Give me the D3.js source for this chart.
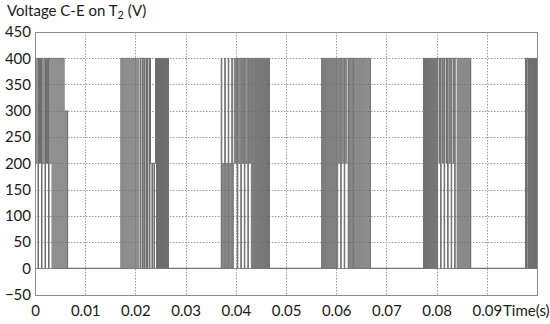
<!DOCTYPE html>
<html>
<head>
<meta charset="utf-8">
<script src="https://cdn.jsdelivr.net/npm/d3@7"></script>
<style>
body { margin: 0; background: #fff; }
svg text { font-family: Lato, "Open Sans", sans-serif; font-size: 15px; fill: #1a1a1a; }
</style>
</head>
<body>
<div id="chart"></div>
<script>
// tick values
const xTicks = [0, 0.01, 0.02, 0.03, 0.04, 0.05, 0.06, 0.07, 0.08, 0.09];
const yTicks = [-50, 0, 50, 100, 150, 200, 250, 300, 350, 400, 450];

// switching bursts: [time (ms), voltage after the edge]
const burst1 = [[0,400],[0.2,200],[0.4,400],[0.6,0],[0.7,400],[0.9,200],[1.1,400],[1.3,0],[1.4,400],[1.6,200],[1.8,400],[2.0,0],[2.1,400],[2.3,200],[2.5,400],[2.7,0],[2.8,400],[3.0,200],[3.2,400],
	[3.4,0],[3.6,400],[3.8,0],[4.0,400],[4.2,0],[4.4,400],[4.6,0],[4.8,400],[5.0,0],[5.2,400],[5.4,0],[5.6,400],
	[5.8,0],[6.0,300],[6.2,0],[6.4,300],[6.5,0]];
const burst2 = [[17.1,400],[17.3,0],[17.5,400],[17.7,0],[17.9,400],[18.1,0],[18.3,400],[18.5,0],[18.7,400],[18.9,0],[19.1,400],[19.3,0],[19.5,400],[19.7,0],[19.9,400],[20.1,0],[20.3,400],[20.5,0],[20.7,400],
	[21.0,0],[21.1,400],[21.4,0],[21.5,400],[21.7,0],[21.8,400],[22.1,0],[22.2,400],[22.4,0],[22.5,400],[22.8,0],[22.9,400],
	[23.0,200],[23.3,0],[23.4,200],[23.7,0],[23.8,200],
	[24.0,400],[24.2,0],[24.4,400],[24.6,0],[24.8,400],[25.0,0],[25.2,400],[25.4,0],[25.6,400],[25.8,0],[26.0,400],[26.2,0],[26.4,400],[26.6,0]];
const burst3 = [[37.1,400],[37.2,0],[37.4,200],[37.6,0],[37.8,400],[37.9,0],[38.1,200],[38.3,0],[38.5,400],[38.6,0],[38.8,200],[39.0,0],[39.2,400],[39.3,0],[39.5,200],
	[39.7,400],[39.9,200],[40.1,400],[40.3,0],[40.4,400],[40.6,200],[40.8,400],[41.0,0],[41.1,400],[41.3,200],[41.5,400],[41.7,0],[41.8,400],[42.0,200],[42.2,400],[42.4,0],[42.5,400],[42.7,200],[42.9,400],
	[43.1,0],[43.3,400],[43.5,0],[43.7,400],[43.9,0],[44.1,400],[44.3,0],[44.5,400],[44.7,0],[44.9,400],[45.1,0],[45.3,400],[45.5,0],[45.7,400],[45.9,0],[46.1,400],[46.3,0],[46.5,400],[46.7,0]];
const burst4 = [[57.1,400],[57.3,0],[57.5,400],[57.7,0],[57.9,400],[58.1,0],[58.3,400],[58.5,0],[58.7,400],[58.9,0],[59.1,400],[59.3,0],[59.5,400],[59.7,0],[59.9,400],[60.1,0],[60.3,400],
	[60.5,200],[60.7,400],[60.9,0],[61.0,400],[61.2,200],[61.4,400],[61.6,0],[61.7,400],[61.9,200],[62.1,400],
	[62.4,0],[62.5,400],[62.7,0],[62.8,400],[63.1,0],[63.2,400],[63.4,0],[63.5,400],
	[63.7,0],[63.9,400],[64.1,0],[64.3,400],[64.5,0],[64.7,400],[64.9,0],[65.1,400],[65.3,0],[65.5,400],[65.7,0],[65.9,400],[66.1,0],[66.3,400],[66.5,0],[66.7,400],[66.8,0]];
const burst5 = [[77.4,400],[77.6,0],[77.8,400],[78.0,0],[78.2,400],[78.4,0],[78.6,400],[78.8,0],[79.0,400],[79.2,0],[79.4,400],[79.6,0],[79.8,400],[80.0,0],[80.2,400],
	[80.5,200],[80.6,400],[80.8,0],[80.9,400],[81.2,200],[81.3,400],[81.5,0],[81.6,400],[81.9,200],[82.0,400],[82.2,0],[82.3,400],[82.6,200],[82.7,400],[82.9,0],[83.0,400],[83.3,200],[83.4,400],[83.6,0],[83.7,400],
	[84.1,0],[84.3,400],[84.5,0],[84.7,400],[84.9,0],[85.1,400],[85.3,0],[85.5,400],[85.7,0],[85.9,400],[86.1,0],[86.3,400],[86.5,0],[86.7,400],[86.8,0]];
const burst6 = [[97.7,400],[97.9,0],[98.0,400],[98.2,0],[98.3,400],[98.5,0],
	[98.7,400],[98.9,0],[99.1,400],[99.3,0],[99.5,400],[99.7,0],[99.9,400],[100,400]];

function drawChart() {
	const W = 550, H = 324;
	const x = d3.scaleLinear().domain([0, 0.1]).range([35, 537]);
	const y = d3.scaleLinear().domain([-50, 450]).range([294.5, 32]);

	const svg = d3.select("#chart").append("svg")
		.attr("width", W)
		.attr("height", H);

	// dotted grid
	svg.append("g").selectAll("line")
		.data(xTicks.filter(d => d > 0))
		.enter().append("line")
		.attr("x1", d => Math.round(x(d)) + 0.5)
		.attr("x2", d => Math.round(x(d)) + 0.5)
		.attr("y1", y(450))
		.attr("y2", y(-50))
		.attr("stroke", "#9a9a9a")
		.attr("stroke-dasharray", "1.5,1.5");

	svg.append("g").selectAll("line")
		.data(yTicks.filter(d => d > 0 && d < 450))
		.enter().append("line")
		.attr("x1", x(0))
		.attr("x2", x(0.1))
		.attr("y1", d => Math.round(y(d)) + 0.5)
		.attr("y2", d => Math.round(y(d)) + 0.5)
		.attr("stroke", "#9a9a9a")
		.attr("stroke-dasharray", "1.5,1.5");

	// zero line and frame
	svg.append("line")
		.attr("x1", x(0)).attr("x2", x(0.1))
		.attr("y1", Math.round(y(0)) + 0.5).attr("y2", Math.round(y(0)) + 0.5)
		.attr("stroke", "#8a8a8a");

	svg.append("rect")
		.attr("x", Math.round(x(0)) + 0.5)
		.attr("y", Math.round(y(450)) + 0.5)
		.attr("width", Math.round(x(0.1)) - Math.round(x(0)))
		.attr("height", Math.round(y(-50)) - Math.round(y(450)))
		.attr("fill", "none")
		.attr("stroke", "#8a8a8a");

	// waveform
	const wave = [].concat(burst1, burst2, burst3, burst4, burst5, burst6);
	const line = d3.line()
		.x(d => x(d[0] / 1000))
		.y(d => y(d[1]))
		.curve(d3.curveStepAfter);

	svg.append("path")
		.datum(wave)
		.attr("d", line)
		.attr("fill", "none")
		.attr("stroke", "#6c6c6c")
		.attr("stroke-width", 1);

	// axes (labels only)
	const yAxis = svg.append("g")
		.attr("transform", "translate(" + x(0) + ",0)")
		.call(d3.axisLeft(y).tickValues(yTicks).tickSize(0).tickPadding(4));
	yAxis.select(".domain").remove();

	const xAxis = svg.append("g")
		.attr("transform", "translate(0," + y(-50) + ")")
		.call(d3.axisBottom(x).tickValues(xTicks).tickSize(0).tickPadding(11).tickFormat(d3.format("")));
	xAxis.select(".domain").remove();

	svg.selectAll(".tick text")
		.attr("font-family", null)
		.attr("font-size", null);

	svg.append("text")
		.attr("x", 503)
		.attr("y", 316)
		.text("Time(s)");

	const title = svg.append("text")
		.attr("x", 7)
		.attr("y", 16);
	title.append("tspan").text("Voltage C-E on T");
	title.append("tspan").attr("dy", 3).style("font-size", "11px").text("2");
	title.append("tspan").attr("dy", -3).text(" (V)");
}

drawChart();
</script>
</body>
</html>
